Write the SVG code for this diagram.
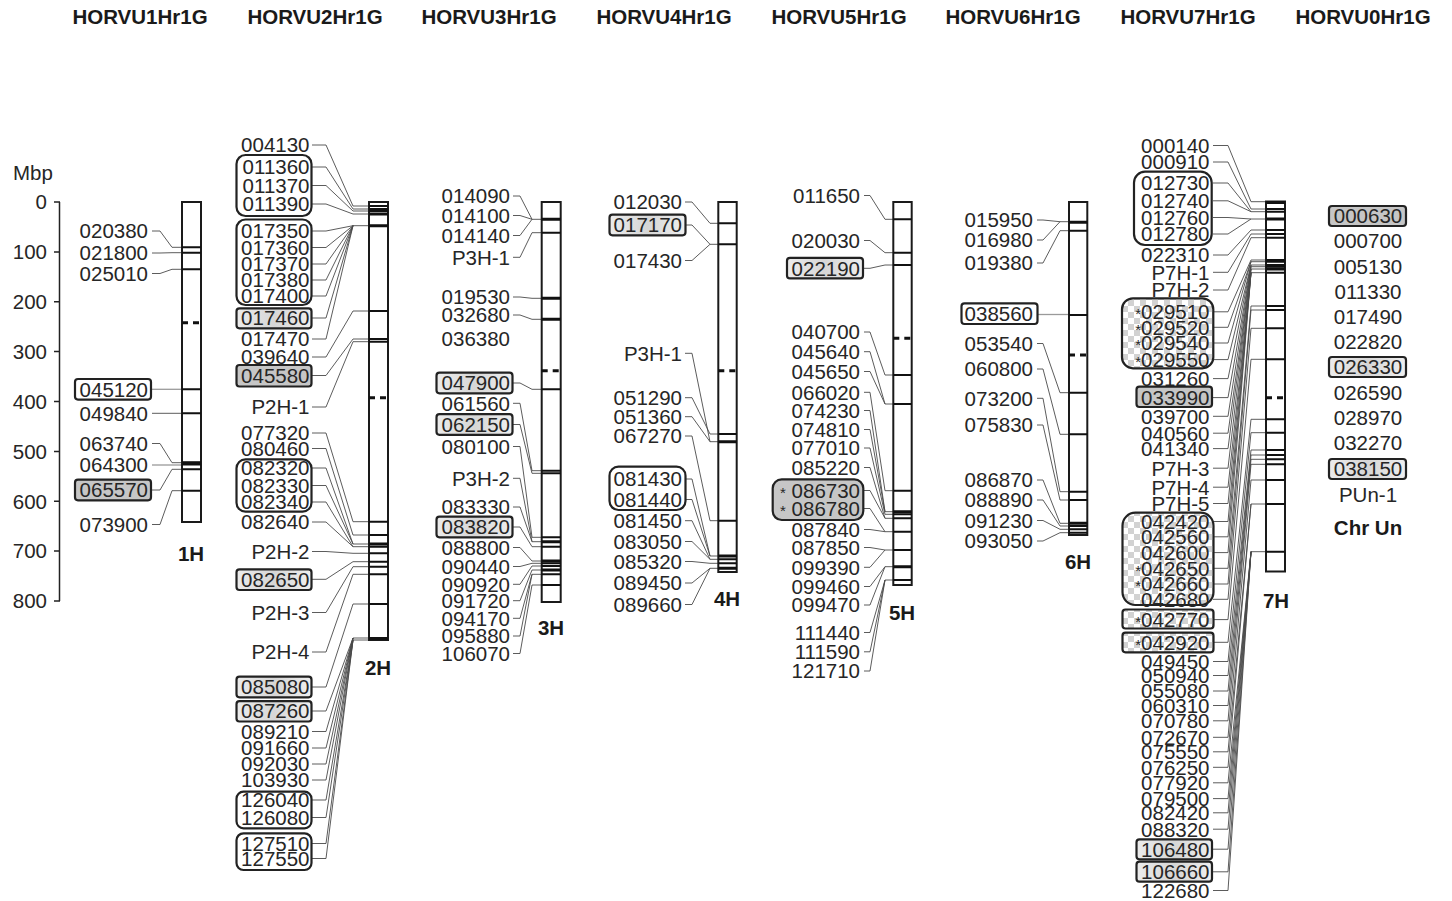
<svg xmlns="http://www.w3.org/2000/svg" width="1452" height="901" viewBox="0 0 1452 901">
<style>
text{font-family:"Liberation Sans",Arial,Helvetica,sans-serif;font-size:20.5px;fill:#262626}
.l{text-anchor:end}
.m{text-anchor:middle}
.h{font-weight:bold;text-anchor:middle;fill:#1a1a1a}
.a{font-size:15px}
.ch{fill:#fff;stroke:#1a1a1a;stroke-width:2}
.b{stroke:#111;stroke-width:2}
.bt{stroke:#111;stroke-width:3}
.cen{stroke:#111;stroke-width:3;stroke-dasharray:6 5}
.bx{stroke:#222;stroke-width:2.2}
.w{fill:#fff}
.g{fill:#c6c6c6}
.lt{fill:url(#lg)}
.k{fill:url(#chk)}
#connectors polyline{fill:none;stroke:#4a4a4a;stroke-width:0.9}
#connectors .gr{stroke:#9a9a9a;stroke-width:1.3}
.ax{stroke:#222;stroke-width:1.5;fill:none}
</style>
<defs>
<pattern id="chk" width="12" height="12" patternUnits="userSpaceOnUse"><rect width="12" height="12" fill="#fff"/><rect width="6" height="6" fill="#d2d2d2"/><rect x="6" y="6" width="6" height="6" fill="#d2d2d2"/></pattern>
<linearGradient id="lg" x1="0" y1="0" x2="1" y2="0"><stop offset="0" stop-color="#ececec"/><stop offset="0.5" stop-color="#d6d6d6"/><stop offset="1" stop-color="#efefef"/></linearGradient>
</defs>
<rect width="1452" height="901" fill="#fff"/>

<g id="headers">
<text class="h" x="140" y="24">HORVU1Hr1G</text>
<text class="h" x="315" y="24">HORVU2Hr1G</text>
<text class="h" x="489" y="24">HORVU3Hr1G</text>
<text class="h" x="664" y="24">HORVU4Hr1G</text>
<text class="h" x="839" y="24">HORVU5Hr1G</text>
<text class="h" x="1013" y="24">HORVU6Hr1G</text>
<text class="h" x="1188" y="24">HORVU7Hr1G</text>
<text class="h" x="1363" y="24">HORVU0Hr1G</text>
</g>

<g id="axis">
<text x="13" y="180">Mbp</text>
<path class="ax" d="M59.5,202V601M54,202H60M54,251.9H60M54,301.7H60M54,351.6H60M54,401.5H60M54,451.4H60M54,501.2H60M54,551.1H60M54,601H60"/>
<text class="l" x="47" y="209.3">0</text>
<text class="l" x="47" y="259.2">100</text>
<text class="l" x="47" y="309">200</text>
<text class="l" x="47" y="358.9">300</text>
<text class="l" x="47" y="408.8">400</text>
<text class="l" x="47" y="458.7">500</text>
<text class="l" x="47" y="508.5">600</text>
<text class="l" x="47" y="558.4">700</text>
<text class="l" x="47" y="608.3">800</text>
</g>

<g id="connectors">
<!-- 1H -->
<polyline points="152,231 160,231 172,247.3 182,247.3"/>
<polyline points="152,253 160,253 172,252.7 182,252.7"/>
<polyline points="152,273.5 160,273.5 172,269.3 182,269.3"/>
<polyline class="gr" points="152,389.3 182,389.3"/>
<polyline points="152,413.3 182,413.3"/>
<polyline points="152,443.5 160,443.5 172,462.7 182,462.7"/>
<polyline class="gr" points="152,465 182,465"/>
<polyline points="152,490 160,490 172,469.3 182,469.3"/>
<polyline points="152,524.5 160,524.5 172,490.7 182,490.7"/>
<!-- 2H -->
<polyline points="312,145 326,145 353,206 369,206"/>
<polyline points="312,167 326,167 353,209 369,209"/>
<polyline points="312,185.5 326,185.5 353,211 369,211"/>
<polyline points="312,204 326,204 353,214 369,214"/>
<polyline points="312,231 326,231 353,225.7 369,225.7"/>
<polyline points="312,247.5 326,247.5 353,225.7"/>
<polyline points="312,264 326,264 353,225.7"/>
<polyline points="312,280 326,280 353,225.7"/>
<polyline points="312,296 326,296 353,225.7"/>
<polyline points="312,318 326,318 353,225.7"/>
<polyline points="312,339 326,339 353,225.7"/>
<polyline points="312,357 326,357 353,311 369,311"/>
<polyline points="312,375.5 326,375.5 353,339 369,339"/>
<polyline points="312,407 326,407 353,341.7 369,341.7"/>
<polyline points="312,433 326,433 353,521.7 369,521.7"/>
<polyline points="312,448.5 326,448.5 353,535 369,535"/>
<polyline points="312,468 326,468 353,544 369,544"/>
<polyline points="312,485.5 326,485.5 353,544"/>
<polyline points="312,502 326,502 353,546.7 369,546.7"/>
<polyline points="312,522 326,522 353,546.7"/>
<polyline points="312,551.5 326,551.5 353,553.3 369,553.3"/>
<polyline points="312,579.3 326,579.3 353,561.7 369,561.7"/>
<polyline points="312,612.5 326,612.5 353,566.7 369,566.7"/>
<polyline points="312,652 326,652 353,574.3 369,574.3"/>
<polyline points="312,687 326,687 353,604 369,604"/>
<polyline points="312,711 326,711 353,638 369,638"/>
<polyline points="312,731.5 326,731.5 353,638"/>
<polyline points="312,748 326,748 353,638"/>
<polyline points="312,764 326,764 353,638"/>
<polyline points="312,780 326,780 353,638"/>
<polyline points="312,800 326,800 353,640 369,640"/>
<polyline points="312,817.5 326,817.5 353,640"/>
<polyline points="312,843.5 326,843.5 353,640"/>
<polyline points="312,858.5 326,858.5 353,640"/>
<!-- 3H -->
<polyline points="513,196 520,196 532,219.3 541.7,219.3"/>
<polyline points="513,215.5 520,215.5 532,219.3"/>
<polyline points="513,235.5 520,235.5 532,219.3"/>
<polyline points="513,257.3 520,257.3 532,232.7 541.7,232.7"/>
<polyline points="513,297 520,297 532,298.3 541.7,298.3"/>
<polyline points="513,315 520,315 532,319.3 541.7,319.3"/>
<polyline points="513,383 520,383 532,389.3 541.7,389.3"/>
<polyline points="513,403.3 520,403.3 532,470.7 541.7,470.7"/>
<polyline points="513,424.5 520,424.5 532,473.3 541.7,473.3"/>
<polyline points="513,446.5 520,446.5 532,537.3 541.7,537.3"/>
<polyline points="513,478.3 520,478.3 532,541.7 541.7,541.7"/>
<polyline points="513,507 520,507 532,541.7"/>
<polyline points="513,527 520,527 532,546.7 541.7,546.7"/>
<polyline points="513,547.5 520,547.5 532,561 541.7,561"/>
<polyline points="513,566.5 520,566.5 532,563.3 541.7,563.3"/>
<polyline points="513,584.3 520,584.3 532,566 541.7,566"/>
<polyline points="513,600.7 520,600.7 532,570 541.7,570"/>
<polyline points="513,618.3 520,618.3 532,574.3 541.7,574.3"/>
<polyline points="513,636 520,636 532,574.3"/>
<polyline points="513,653.5 520,653.5 532,585 541.7,585"/>
<!-- 4H -->
<polyline points="685,202 692,202 710,223.3 718.3,223.3"/>
<polyline points="685,225 692,225 710,244.3 718.3,244.3"/>
<polyline points="685,260.5 692,260.5 710,244.3"/>
<polyline points="685,353.3 692,353.3 710,441.7 718.3,441.7"/>
<polyline points="685,397.7 692,397.7 710,434 718.3,434"/>
<polyline points="685,416.7 692,416.7 710,441.7"/>
<polyline points="685,436 692,436 710,520.7 718.3,520.7"/>
<polyline points="685,479 692,479 710,556 718.3,556"/>
<polyline points="685,499.5 692,499.5 710,556"/>
<polyline points="685,520.7 692,520.7 710,559.3 718.3,559.3"/>
<polyline points="685,541.5 692,541.5 710,559.3"/>
<polyline points="685,561.5 692,561.5 710,563.3 718.3,563.3"/>
<polyline points="685,583 692,583 710,568.3 718.3,568.3"/>
<polyline points="685,604.5 692,604.5 710,568.3"/>
<!-- 5H -->
<polyline points="864,195.5 870,195.5 885,219.3 893.3,219.3"/>
<polyline points="864,240.5 870,240.5 885,252.7 893.3,252.7"/>
<polyline points="864,268.3 870,268.3 885,265 893.3,265"/>
<polyline points="864,332 870,332 885,375 893.3,375"/>
<polyline points="864,351.7 870,351.7 885,404 893.3,404"/>
<polyline points="864,371.5 870,371.5 885,404"/>
<polyline points="864,392.3 870,392.3 885,490.7 893.3,490.7"/>
<polyline points="864,410.5 870,410.5 885,511.7 893.3,511.7"/>
<polyline points="864,429.5 870,429.5 885,511.7"/>
<polyline points="864,448 870,448 885,514.3 893.3,514.3"/>
<polyline points="864,467.5 870,467.5 885,518.3 893.3,518.3"/>
<polyline points="864,490.5 870,490.5 885,518.3"/>
<polyline points="864,508.5 870,508.5 885,531.7 893.3,531.7"/>
<polyline points="864,529.5 870,529.5 885,531.7"/>
<polyline points="864,547.5 870,547.5 885,550 893.3,550"/>
<polyline points="864,567.3 870,567.3 885,550"/>
<polyline points="864,586.5 870,586.5 885,566.7 893.3,566.7"/>
<polyline points="864,605 870,605 885,566.7"/>
<polyline points="864,632.5 870,632.5 885,580 893.3,580"/>
<polyline points="864,651.8 870,651.8 885,580"/>
<polyline points="864,671 870,671 885,580"/>
<!-- 6H -->
<polyline points="1037,220 1043,220 1060,221.7 1069,221.7"/>
<polyline points="1037,240 1043,240 1060,221.7"/>
<polyline points="1037,263 1043,263 1060,230.7 1069,230.7"/>
<polyline class="gr" points="1037,314.5 1069,314.5"/>
<polyline points="1037,343.5 1043,343.5 1060,392.7 1069,392.7"/>
<polyline points="1037,369 1043,369 1060,434.3 1069,434.3"/>
<polyline points="1037,398.3 1043,398.3 1060,491.7 1069,491.7"/>
<polyline points="1037,425 1043,425 1060,500 1069,500"/>
<polyline points="1037,480 1043,480 1060,523.3 1069,523.3"/>
<polyline points="1037,500 1043,500 1060,526 1069,526"/>
<polyline points="1037,520.5 1043,520.5 1060,529.3 1069,529.3"/>
<polyline points="1037,541 1043,541 1060,532.7 1069,532.7"/>
<!-- 7H -->
<polyline points="1213,145.5 1228,145.5 1251,201.7 1266,201.7"/>
<polyline points="1213,162 1228,162 1251,209 1266,209"/>
<polyline points="1213,183 1228,183 1251,211.7 1266,211.7"/>
<polyline points="1213,200.8 1228,200.8 1251,211.7"/>
<polyline points="1213,217.5 1228,217.5 1251,219 1266,219"/>
<polyline points="1213,234 1228,234 1251,219"/>
<polyline points="1213,255 1228,255 1251,230 1266,230"/>
<polyline points="1213,272.3 1228,272.3 1251,234 1266,234"/>
<polyline points="1213,290 1228,290 1251,237.7 1266,237.7"/>
<polyline points="1213,311.8 1228,311.8 1251,260 1266,260"/>
<polyline points="1213,327.3 1228,327.3 1251,261.7 1266,261.7"/>
<polyline points="1213,343 1228,343 1251,261.7"/>
<polyline points="1213,359.6 1228,359.6 1251,265 1266,265"/>
<polyline points="1213,378.6 1228,378.6 1251,265"/>
<polyline points="1213,397.6 1228,397.6 1251,266.7 1266,266.7"/>
<polyline points="1213,416.3 1228,416.3 1251,266.7"/>
<polyline points="1213,433.2 1228,433.2 1251,269 1266,269"/>
<polyline points="1213,448.6 1228,448.6 1251,269"/>
<polyline points="1213,468.2 1228,468.2 1251,269"/>
<polyline points="1213,487.2 1228,487.2 1251,272.7 1266,272.7"/>
<polyline points="1213,503.5 1228,503.5 1251,272.7"/>
<polyline points="1213,521.5 1228,521.5 1251,272.7"/>
<polyline points="1213,536.8 1228,536.8 1251,272.7"/>
<polyline points="1213,552.6 1228,552.6 1251,272.7"/>
<polyline points="1213,568.3 1228,568.3 1251,306 1266,306"/>
<polyline points="1213,584 1228,584 1251,310 1266,310"/>
<polyline points="1213,599.3 1228,599.3 1251,328.3 1266,328.3"/>
<polyline points="1213,619.6 1228,619.6 1251,359.3 1266,359.3"/>
<polyline points="1213,642.3 1228,642.3 1251,419.3 1266,419.3"/>
<polyline points="1213,661.5 1228,661.5 1251,432.7 1266,432.7"/>
<polyline points="1213,675.5 1228,675.5 1251,450 1266,450"/>
<polyline points="1213,691 1228,691 1251,455 1266,455"/>
<polyline points="1213,705.5 1228,705.5 1251,459.3 1266,459.3"/>
<polyline points="1213,720.8 1228,720.8 1251,464.3 1266,464.3"/>
<polyline points="1213,737.3 1228,737.3 1251,480 1266,480"/>
<polyline points="1213,751.8 1228,751.8 1251,504 1266,504"/>
<polyline points="1213,767.3 1228,767.3 1251,504"/>
<polyline points="1213,782.8 1228,782.8 1251,551.7 1266,551.7"/>
<polyline points="1213,798.6 1228,798.6 1251,551.7"/>
<polyline points="1213,812.8 1228,812.8 1251,551.7"/>
<polyline points="1213,829.2 1228,829.2 1251,551.7"/>
<polyline points="1213,849.2 1228,849.2 1251,551.7"/>
<polyline points="1213,871.8 1228,871.8 1251,551.7"/>
<polyline points="1213,890.5 1228,890.5 1251,551.7"/>
</g>

<g id="chr1H">
<rect class="ch" x="182" y="202" width="19" height="320"/>
<path class="b" d="M182,247.3h19M182,252.7h19M182,269.3h19M182,389.3h19M182,413.3h19M182,464.5h19M182,469.3h19M182,490.7h19"/>
<path class="bt" d="M182,462.7h19"/>
<path class="cen" d="M182,322.7h19"/>
<rect class="bx w" x="75" y="379" width="76" height="20.6" rx="3"/>
<rect class="bx g" x="75" y="479.7" width="76" height="20.6" rx="3"/>
<text class="l" x="148" y="238.3">020380</text>
<text class="l" x="148" y="260.3">021800</text>
<text class="l" x="148" y="280.8">025010</text>
<text class="l" x="148" y="396.6">045120</text>
<text class="l" x="148" y="420.6">049840</text>
<text class="l" x="148" y="450.8">063740</text>
<text class="l" x="148" y="472.3">064300</text>
<text class="l" x="148" y="497.3">065570</text>
<text class="l" x="148" y="531.8">073900</text>
<text class="h" x="191" y="561">1H</text>
</g>

<g id="chr2H">
<rect class="ch" x="369" y="202" width="19" height="438"/>
<path class="b" d="M369,206h19M369,209h19M369,211h19M369,311h19M369,339h19M369,341.7h19M369,521.7h19M369,535h19M369,546.7h19M369,553.3h19M369,561.7h19M369,566.7h19M369,574.3h19M369,604h19"/>
<path class="bt" d="M369,214h19M369,225.7h19M369,544h19M369,638.5h19"/>
<path class="cen" d="M369,397.7h19"/>
<rect class="bx w" x="236.5" y="155" width="75" height="61" rx="9"/>
<rect class="bx w" x="236.5" y="219.5" width="75" height="85.5" rx="9"/>
<rect class="bx lt" x="236.5" y="308.3" width="75" height="20" rx="3"/>
<rect class="bx g" x="236.5" y="365" width="75" height="21.5" rx="3"/>
<rect class="bx w" x="236.5" y="459.3" width="75" height="52.4" rx="9"/>
<rect class="bx lt" x="236.5" y="569.3" width="75" height="20.7" rx="3"/>
<rect class="bx lt" x="236.5" y="676.7" width="75" height="20.6" rx="3"/>
<rect class="bx lt" x="236.5" y="701.2" width="75" height="20.3" rx="3"/>
<rect class="bx w" x="236.5" y="791.7" width="75" height="36.6" rx="7"/>
<rect class="bx w" x="236.5" y="833.3" width="75" height="36.7" rx="7"/>
<text class="l" x="309.5" y="152.3">004130</text>
<text class="l" x="309.5" y="174.3">011360</text>
<text class="l" x="309.5" y="192.8">011370</text>
<text class="l" x="309.5" y="211.3">011390</text>
<text class="l" x="309.5" y="238.3">017350</text>
<text class="l" x="309.5" y="254.8">017360</text>
<text class="l" x="309.5" y="271.3">017370</text>
<text class="l" x="309.5" y="287.3">017380</text>
<text class="l" x="309.5" y="303.3">017400</text>
<text class="l" x="309.5" y="325.3">017460</text>
<text class="l" x="309.5" y="346.3">017470</text>
<text class="l" x="309.5" y="364.3">039640</text>
<text class="l" x="309.5" y="382.8">045580</text>
<text class="l" x="309.5" y="414.3">P2H-1</text>
<text class="l" x="309.5" y="440.3">077320</text>
<text class="l" x="309.5" y="455.8">080460</text>
<text class="l" x="309.5" y="475.3">082320</text>
<text class="l" x="309.5" y="492.8">082330</text>
<text class="l" x="309.5" y="509.3">082340</text>
<text class="l" x="309.5" y="529.3">082640</text>
<text class="l" x="309.5" y="558.8">P2H-2</text>
<text class="l" x="309.5" y="586.6">082650</text>
<text class="l" x="309.5" y="619.8">P2H-3</text>
<text class="l" x="309.5" y="659.3">P2H-4</text>
<text class="l" x="309.5" y="694.3">085080</text>
<text class="l" x="309.5" y="718.3">087260</text>
<text class="l" x="309.5" y="738.8">089210</text>
<text class="l" x="309.5" y="755.3">091660</text>
<text class="l" x="309.5" y="771.3">092030</text>
<text class="l" x="309.5" y="787.3">103930</text>
<text class="l" x="309.5" y="807.3">126040</text>
<text class="l" x="309.5" y="824.8">126080</text>
<text class="l" x="309.5" y="850.8">127510</text>
<text class="l" x="309.5" y="865.8">127550</text>
<text class="h" x="378" y="675">2H</text>
</g>

<g id="chr3H">
<rect class="ch" x="541.7" y="202" width="19" height="400"/>
<path class="b" d="M541.7,232.7h19M541.7,389.3h19M541.7,470.7h19M541.7,473.3h19M541.7,537.3h19M541.7,546.7h19M541.7,563.3h19M541.7,566h19M541.7,574.3h19M541.7,585h19"/>
<path class="bt" d="M541.7,219.3h19M541.7,298.3h19M541.7,319.3h19M541.7,541.7h19M541.7,561h19M541.7,570h19"/>
<path class="cen" d="M541.7,370.7h19"/>
<rect class="bx lt" x="436.5" y="372.7" width="76" height="20.6" rx="3"/>
<rect class="bx lt" x="436.5" y="414.2" width="76" height="20.6" rx="3"/>
<rect class="bx lt" x="436.5" y="516.7" width="76" height="20.6" rx="3"/>
<text class="l" x="510" y="203.3">014090</text>
<text class="l" x="510" y="222.8">014100</text>
<text class="l" x="510" y="242.8">014140</text>
<text class="l" x="510" y="264.6">P3H-1</text>
<text class="l" x="510" y="304.3">019530</text>
<text class="l" x="510" y="322.3">032680</text>
<text class="l" x="510" y="345.6">036380</text>
<text class="l" x="510" y="390.3">047900</text>
<text class="l" x="510" y="410.6">061560</text>
<text class="l" x="510" y="431.8">062150</text>
<text class="l" x="510" y="453.8">080100</text>
<text class="l" x="510" y="485.6">P3H-2</text>
<text class="l" x="510" y="514.3">083330</text>
<text class="l" x="510" y="534.3">083820</text>
<text class="l" x="510" y="554.8">088800</text>
<text class="l" x="510" y="573.8">090440</text>
<text class="l" x="510" y="591.6">090920</text>
<text class="l" x="510" y="608">091720</text>
<text class="l" x="510" y="625.6">094170</text>
<text class="l" x="510" y="643.3">095880</text>
<text class="l" x="510" y="660.8">106070</text>
<text class="h" x="551" y="635">3H</text>
</g>

<g id="chr4H">
<rect class="ch" x="718.3" y="202" width="18.4" height="370"/>
<path class="b" d="M718.3,223.3h18.4M718.3,244.3h18.4M718.3,434h18.4M718.3,520.7h18.4M718.3,559.3h18.4M718.3,563.3h18.4"/>
<path class="bt" d="M718.3,441.7h18.4M718.3,556h18.4M718.3,568.3h18.4"/>
<path class="cen" d="M718.3,370.7h18.4"/>
<rect class="bx lt" x="609.5" y="214.7" width="76" height="20.6" rx="3"/>
<rect class="bx w" x="609.5" y="466.7" width="76" height="43.3" rx="9"/>
<text class="l" x="682" y="209.3">012030</text>
<text class="l" x="682" y="232.3">017170</text>
<text class="l" x="682" y="267.8">017430</text>
<text class="l" x="682" y="360.6">P3H-1</text>
<text class="l" x="682" y="405">051290</text>
<text class="l" x="682" y="424">051360</text>
<text class="l" x="682" y="443.3">067270</text>
<text class="l" x="682" y="486.3">081430</text>
<text class="l" x="682" y="506.8">081440</text>
<text class="l" x="682" y="528">081450</text>
<text class="l" x="682" y="548.8">083050</text>
<text class="l" x="682" y="568.8">085320</text>
<text class="l" x="682" y="590.3">089450</text>
<text class="l" x="682" y="611.8">089660</text>
<text class="h" x="727" y="606">4H</text>
</g>

<g id="chr5H">
<rect class="ch" x="893.3" y="202" width="18.4" height="383"/>
<path class="b" d="M893.3,219.3h18.4M893.3,252.7h18.4M893.3,265h18.4M893.3,375h18.4M893.3,404h18.4M893.3,490.7h18.4M893.3,514.3h18.4M893.3,518.3h18.4M893.3,531.7h18.4M893.3,550h18.4M893.3,580h18.4"/>
<path class="bt" d="M893.3,511.7h18.4M893.3,566.7h18.4"/>
<path class="cen" d="M893.3,338.3h18.4"/>
<rect class="bx lt" x="787" y="257.8" width="76" height="20.6" rx="3"/>
<rect class="bx g" x="772.7" y="479.3" width="90.6" height="40.7" rx="9"/>
<text class="l" x="860" y="202.8">011650</text>
<text class="l" x="860" y="247.8">020030</text>
<text class="l" x="860" y="275.6">022190</text>
<text class="l" x="860" y="339.3">040700</text>
<text class="l" x="860" y="359">045640</text>
<text class="l" x="860" y="378.8">045650</text>
<text class="l" x="860" y="399.6">066020</text>
<text class="l" x="860" y="417.8">074230</text>
<text class="l" x="860" y="436.8">074810</text>
<text class="l" x="860" y="455.3">077010</text>
<text class="l" x="860" y="474.8">085220</text>
<text class="l" x="860" y="497.8"><tspan class="a">*</tspan> 086730</text>
<text class="l" x="860" y="515.8"><tspan class="a">*</tspan> 086780</text>
<text class="l" x="860" y="536.8">087840</text>
<text class="l" x="860" y="554.8">087850</text>
<text class="l" x="860" y="574.6">099390</text>
<text class="l" x="860" y="593.8">099460</text>
<text class="l" x="860" y="612.3">099470</text>
<text class="l" x="860" y="639.8">111440</text>
<text class="l" x="860" y="659.1">111590</text>
<text class="l" x="860" y="678.3">121710</text>
<text class="h" x="902" y="620">5H</text>
</g>

<g id="chr6H">
<rect class="ch" x="1069" y="202" width="18.3" height="333"/>
<path class="b" d="M1069,230.7h18.3M1069,315h18.3M1069,392.7h18.3M1069,434.3h18.3M1069,491.7h18.3M1069,500h18.3M1069,526h18.3M1069,529.3h18.3M1069,532.7h18.3"/>
<path class="bt" d="M1069,222.3h18.3M1069,523.3h18.3"/>
<path class="cen" d="M1069,355h18.3"/>
<rect class="bx w" x="961.5" y="303.3" width="76" height="20.7" rx="3"/>
<text class="l" x="1033" y="227.3">015950</text>
<text class="l" x="1033" y="247.3">016980</text>
<text class="l" x="1033" y="270.3">019380</text>
<text class="l" x="1033" y="320.6">038560</text>
<text class="l" x="1033" y="350.8">053540</text>
<text class="l" x="1033" y="376.3">060800</text>
<text class="l" x="1033" y="405.6">073200</text>
<text class="l" x="1033" y="432.3">075830</text>
<text class="l" x="1033" y="487.3">086870</text>
<text class="l" x="1033" y="507.3">088890</text>
<text class="l" x="1033" y="527.8">091230</text>
<text class="l" x="1033" y="548.3">093050</text>
<text class="h" x="1078" y="569">6H</text>
</g>

<g id="chr7H">
<rect class="ch" x="1266" y="201.5" width="19" height="370"/>
<path class="b" d="M1266,209h19M1266,211.7h19M1266,230h19M1266,234h19M1266,237.7h19M1266,260h19M1266,261.7h19M1266,265h19M1266,266.7h19M1266,272.7h19M1266,306h19M1266,310h19M1266,328.3h19M1266,359.3h19M1266,419.3h19M1266,432.7h19M1266,450h19M1266,455h19M1266,459.3h19M1266,464.3h19M1266,480h19M1266,504h19M1266,551.7h19"/>
<path class="bt" d="M1266,202.5h19M1266,219h19M1266,269h19"/>
<path class="cen" d="M1266,397.7h19"/>
<rect class="bx w" x="1134" y="171.7" width="77.7" height="73.3" rx="11"/>
<rect class="bx k" x="1122" y="298.3" width="91.3" height="70" rx="11"/>
<rect class="bx g" x="1136.5" y="386.7" width="75.5" height="20.3" rx="3"/>
<rect class="bx k" x="1122.5" y="512.7" width="91" height="92.3" rx="13"/>
<rect class="bx k" x="1122.5" y="609.5" width="91" height="19" rx="3"/>
<rect class="bx k" x="1122.5" y="632.7" width="91" height="19.6" rx="3"/>
<rect class="bx lt" x="1136.5" y="839.3" width="75.5" height="20" rx="3"/>
<rect class="bx lt" x="1136.5" y="861.7" width="75.5" height="20" rx="3"/>
<text class="l" x="1209.5" y="152.8">000140</text>
<text class="l" x="1209.5" y="169.3">000910</text>
<text class="l" x="1209.5" y="190.3">012730</text>
<text class="l" x="1209.5" y="208.1">012740</text>
<text class="l" x="1209.5" y="224.8">012760</text>
<text class="l" x="1209.5" y="241.3">012780</text>
<text class="l" x="1209.5" y="262.3">022310</text>
<text class="l" x="1209.5" y="279.6">P7H-1</text>
<text class="l" x="1209.5" y="297.3">P7H-2</text>
<text class="l" x="1209.5" y="319.1"><tspan class="a">*</tspan>029510</text>
<text class="l" x="1209.5" y="334.6"><tspan class="a">*</tspan>029520</text>
<text class="l" x="1209.5" y="350.3"><tspan class="a">*</tspan>029540</text>
<text class="l" x="1209.5" y="366.9"><tspan class="a">*</tspan>029550</text>
<text class="l" x="1209.5" y="385.9">031260</text>
<text class="l" x="1209.5" y="404.9">033990</text>
<text class="l" x="1209.5" y="423.6">039700</text>
<text class="l" x="1209.5" y="440.5">040560</text>
<text class="l" x="1209.5" y="455.9">041340</text>
<text class="l" x="1209.5" y="475.5">P7H-3</text>
<text class="l" x="1209.5" y="494.5">P7H-4</text>
<text class="l" x="1209.5" y="510.8">P7H-5</text>
<text class="l" x="1209.5" y="528.8">042420</text>
<text class="l" x="1209.5" y="544.1">042560</text>
<text class="l" x="1209.5" y="559.9">042600</text>
<text class="l" x="1209.5" y="575.6"><tspan class="a">*</tspan>042650</text>
<text class="l" x="1209.5" y="591.3"><tspan class="a">*</tspan>042660</text>
<text class="l" x="1209.5" y="606.6">042680</text>
<text class="l" x="1209.5" y="626.9"><tspan class="a">*</tspan>042770</text>
<text class="l" x="1209.5" y="649.6"><tspan class="a">*</tspan>042920</text>
<text class="l" x="1209.5" y="668.8">049450</text>
<text class="l" x="1209.5" y="682.8">050940</text>
<text class="l" x="1209.5" y="698.3">055080</text>
<text class="l" x="1209.5" y="712.8">060310</text>
<text class="l" x="1209.5" y="728.1">070780</text>
<text class="l" x="1209.5" y="744.6">072670</text>
<text class="l" x="1209.5" y="759.1">075550</text>
<text class="l" x="1209.5" y="774.6">076250</text>
<text class="l" x="1209.5" y="790.1">077920</text>
<text class="l" x="1209.5" y="805.9">079500</text>
<text class="l" x="1209.5" y="820.1">082420</text>
<text class="l" x="1209.5" y="836.5">088320</text>
<text class="l" x="1209.5" y="856.5">106480</text>
<text class="l" x="1209.5" y="879.1">106660</text>
<text class="l" x="1209.5" y="897.8">122680</text>
<text class="h" x="1276" y="608">7H</text>
</g>

<g id="chrUn">
<rect class="bx g" x="1329" y="206" width="77" height="20" rx="3"/>
<rect class="bx lt" x="1329" y="357" width="77" height="20" rx="3"/>
<rect class="bx lt" x="1329" y="459" width="77" height="20" rx="3"/>
<text class="m" x="1368" y="223.3">000630</text>
<text class="m" x="1368" y="248.3">000700</text>
<text class="m" x="1368" y="274.3">005130</text>
<text class="m" x="1368" y="299.3">011330</text>
<text class="m" x="1368" y="324.3">017490</text>
<text class="m" x="1368" y="349.3">022820</text>
<text class="m" x="1368" y="374.3">026330</text>
<text class="m" x="1368" y="400.3">026590</text>
<text class="m" x="1368" y="425.3">028970</text>
<text class="m" x="1368" y="450.3">032270</text>
<text class="m" x="1368" y="476.3">038150</text>
<text class="m" x="1368" y="502.3">PUn-1</text>
<text class="h" x="1368" y="535">Chr Un</text>
</g>
</svg>
